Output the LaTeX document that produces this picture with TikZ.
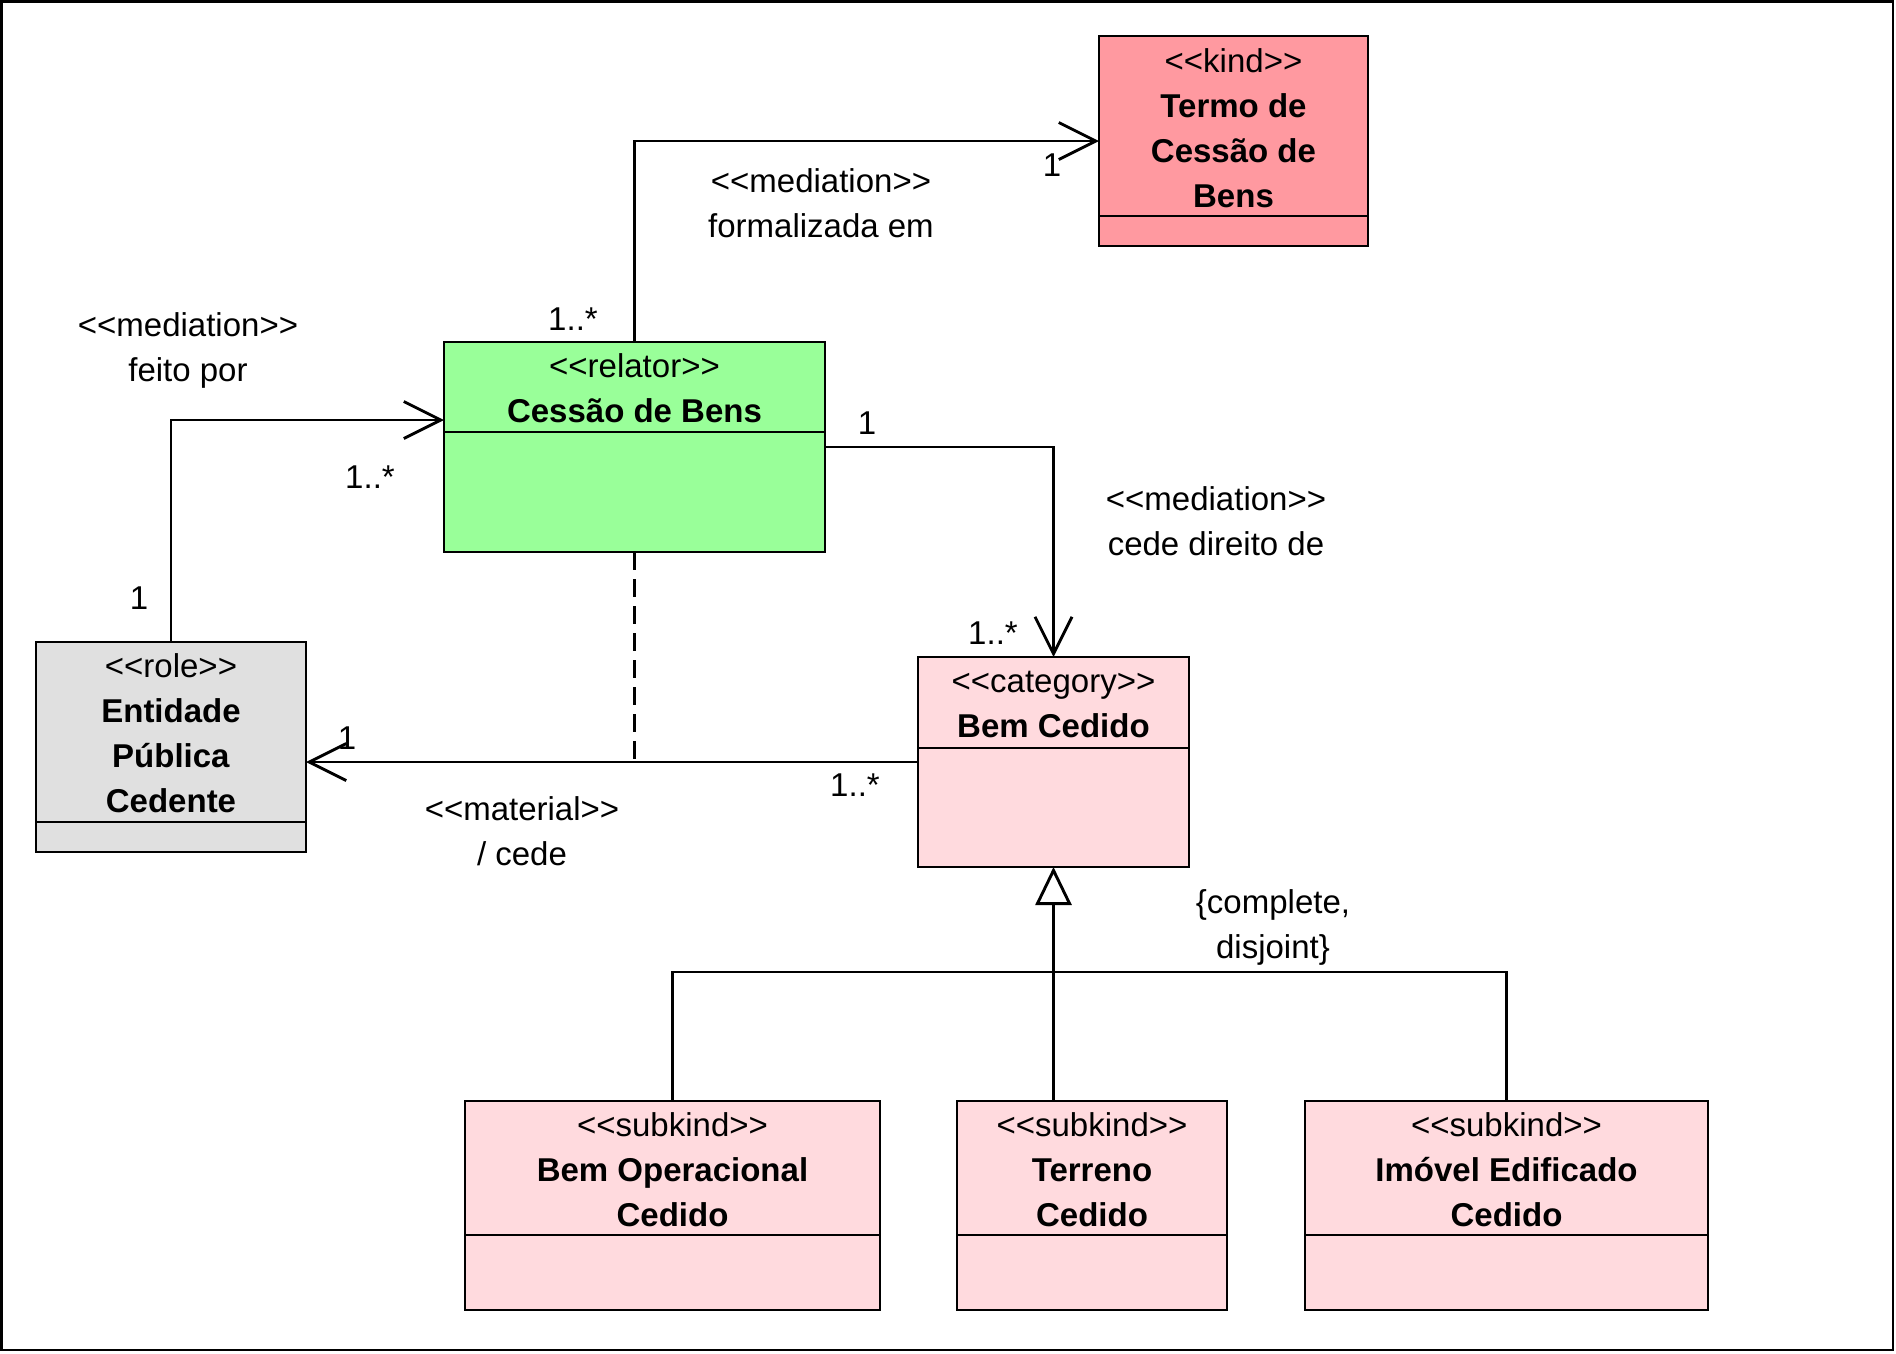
\documentclass[tikz,border=0pt]{standalone}
\usepackage{fontspec}
\setmainfont{Liberation Sans}
\usetikzlibrary{arrows.meta}
\definecolor{kindpink}{RGB}{255,153,160}
\definecolor{relatorgreen}{RGB}{153,255,153}
\definecolor{rolegray}{RGB}{224,224,224}
\definecolor{subpink}{RGB}{255,218,222}
\newcommand{\stereo}[1]{<\kern0pt<#1>\kern0pt>}

\begin{document}
\begin{tikzpicture}[x=1pt, y=-1pt, line width=2.9pt,
    font=\fontsize{33}{45}\selectfont,
    classbox/.style={draw, rectangle, inner sep=0pt, outer sep=0pt},
    classtitle/.style={align=center, inner sep=0pt},
    lbl/.style={align=center, inner sep=0pt},
    assoc/.style={-{Straight Barb[length=37pt, width=37pt]}},
    genarrow/.style={-{Triangle[fill=white, length=38pt, width=36pt]}}]
  \useasboundingbox (0,0) rectangle (1896,1353);
  % frame
  \draw[line width=2.5pt] (1.5,1.5) rectangle (1893,1350);
  % draw classes
  \node[classbox, fill=kindpink, minimum width=269, minimum height=210]
        (termo) at (1233.5,141) {};
  \draw (termo.west |- 0,216) -- (termo.east |- 0,216);
  \node[classtitle] at (1233.5,128)
        {\stereo{kind}\\\textbf{Termo de}\\\textbf{Cessão de}\\\textbf{Bens}};
  \node[classbox, fill=relatorgreen, minimum width=381, minimum height=210]
        (cessao) at (634.5,447) {};
  \draw (cessao.west |- 0,432) -- (cessao.east |- 0,432);
  \node[classtitle] at (634.5,388.5)
        {\stereo{relator}\\\textbf{Cessão de Bens}};
  \node[classbox, fill=rolegray, minimum width=270, minimum height=210]
        (role) at (171,747) {};
  \draw (role.west |- 0,822) -- (role.east |- 0,822);
  \node[classtitle] at (171,733.5)
        {\stereo{role}\\\textbf{Entidade}\\\textbf{Pública}\\\textbf{Cedente}};
  \node[classbox, fill=subpink, minimum width=271, minimum height=210]
        (categoria) at (1053.5,762) {};
  \draw (categoria.west |- 0,748) -- (categoria.east |- 0,748);
  \node[classtitle] at (1053.5,704.5)
        {\stereo{category}\\\textbf{Bem Cedido}};
  \node[classbox, fill=subpink, minimum width=415, minimum height=209]
        (bemop) at (672.5,1205.5) {};
  \draw (bemop.west |- 0,1235) -- (bemop.east |- 0,1235);
  \node[classtitle] at (672.5,1170)
        {\stereo{subkind}\\\textbf{Bem Operacional}\\\textbf{Cedido}};
  \node[classbox, fill=subpink, minimum width=270, minimum height=209]
        (terreno) at (1092,1205.5) {};
  \draw (terreno.west |- 0,1235) -- (terreno.east |- 0,1235);
  \node[classtitle] at (1092,1170)
        {\stereo{subkind}\\\textbf{Terreno}\\\textbf{Cedido}};
  \node[classbox, fill=subpink, minimum width=403, minimum height=209]
        (imovel) at (1506.5,1205.5) {};
  \draw (imovel.west |- 0,1235) -- (imovel.east |- 0,1235);
  \node[classtitle] at (1506.5,1170)
        {\stereo{subkind}\\\textbf{Imóvel Edificado}\\\textbf{Cedido}};
  % draw associations
  \draw[assoc] (cessao.north) |- (termo.west);
  \draw[assoc] (role.north) |- ([yshift=27pt]cessao.west);
  \draw[assoc] (cessao.east) -| (categoria.north);
  \draw[assoc] (categoria.west) -- (categoria.west -| role.east);
  \draw[dash pattern=on 18pt off 9pt] (cessao.south) -- (cessao.south |- categoria.west);
  % draw generalization
  \coordinate (genbar) at (1053.5,972);
  \draw (bemop.north) |- (genbar) -| (imovel.north);
  \draw[genarrow] (categoria.south |- terreno.north) -- (categoria.south);
  % draw labels
  \node[lbl] at (821,203) {\stereo{mediation}\\formalizada em};
  \node[lbl] at (188,350.5) {\stereo{mediation}\\feito por};
  \node[lbl] at (1216,521.5) {\stereo{mediation}\\cede direito de};
  \node[lbl] at (522,831) {\stereo{material}\\/ cede};
  \node[lbl] at (1273,927.5) {\{complete,\\disjoint\}};
  % draw multiplicities
  \node[lbl] at (573,319) {1..*};
  \node[lbl] at (1052,165) {1};
  \node[lbl] at (370,477) {1..*};
  \node[lbl] at (139,598) {1};
  \node[lbl] at (867,423) {1};
  \node[lbl] at (993,633) {1..*};
  \node[lbl] at (347,738) {1};
  \node[lbl] at (855,785) {1..*};
\end{tikzpicture}
\end{document}
